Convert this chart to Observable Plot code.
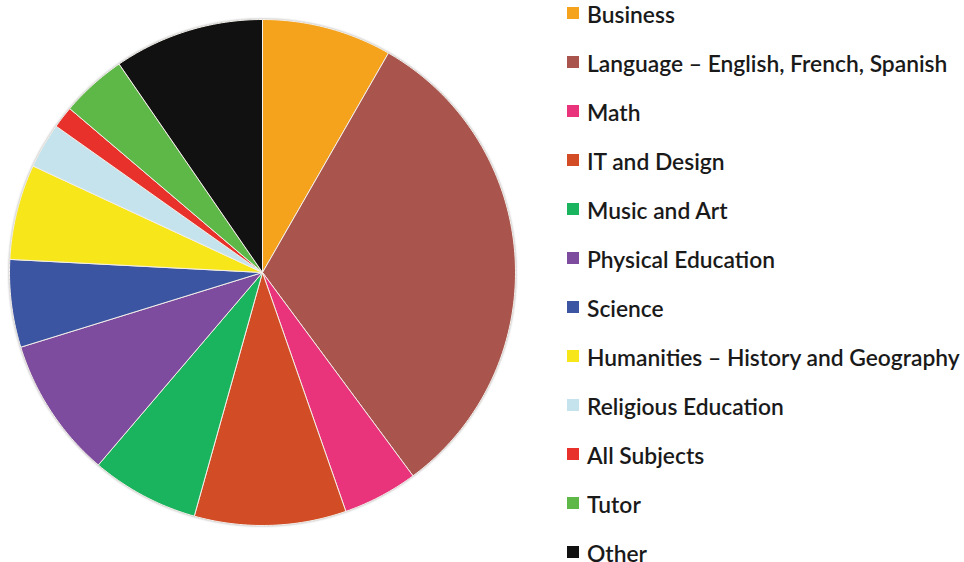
<!DOCTYPE html>
<html>
<head>
<meta charset="utf-8">
<script src="https://cdn.jsdelivr.net/npm/d3@7"></script>
<script src="https://cdn.jsdelivr.net/npm/@observablehq/plot@0.6"></script>
<style>
  html, body { margin: 0; padding: 0; background: #fff; overflow: hidden; }
  #wrap { position: relative; width: 964px; height: 562px; overflow: hidden; }
  #wrap svg { position: absolute; left: 0; top: 0; filter: drop-shadow(0 0 1.2px rgba(0,0,0,0.35)); }
  #legend { position: absolute; left: 567px; top: -10.5px; font-family: Lato, "Open Sans", sans-serif; font-size: 22.8px; color: #1a1a1a; font-weight: 600; }
  .item { height: 49px; display: flex; align-items: center; white-space: nowrap; }
  .sw { width: 12px; height: 12px; margin-right: 8px; flex: none; margin-top: -2px; }
</style>
</head>
<body>
<div id="wrap"><div id="legend"></div></div>
<script>
const names = [
  "Business",
  "Language – English, French, Spanish",
  "Math",
  "IT and Design",
  "Music and Art",
  "Physical Education",
  "Science",
  "Humanities – History and Geography",
  "Religious Education",
  "All Subjects",
  "Tutor",
  "Other"
];
const values = [8.3, 31.6, 4.8, 9.7, 6.9, 9.0, 5.6, 6.1, 2.9, 1.4, 4.2, 9.6];
const colors = ["#f5a31c", "#a9544d", "#e9337b", "#d24c25", "#1ab35e", "#7e4c9e", "#3b55a3", "#f7e71a", "#c4e3ed", "#e8312a", "#5db848", "#111111"];

const arcs = d3.pie().sort(null).value(d => d.value)(names.map((name, i) => ({name, value: values[i]})));
const pts = [];
for (const a of arcs) {
  const name = a.data.name;
  pts.push({name, x: 0, y: 0});
  const n = Math.max(8, Math.ceil((a.endAngle - a.startAngle) * 60));
  for (let k = 0; k <= n; k++) {
    const t = a.startAngle + (a.endAngle - a.startAngle) * k / n;
    pts.push({name, x: Math.sin(t), y: Math.cos(t)});
  }
  pts.push({name, x: 0, y: 0});
}

const cx = 262, cy = 272, r = 253;
const chart = Plot.plot({
  width: 540,
  height: 562,
  margin: 0,
  x: {domain: [-1, 1], range: [cx - r, cx + r], axis: null},
  y: {domain: [-1, 1], range: [cy + r, cy - r], axis: null},
  color: {domain: names, range: colors},
  marks: [
    Plot.line(pts, {x: "x", y: "y", z: "name", fill: "name", stroke: "#f4efe9", strokeWidth: 1, curve: "linear"})
  ]
});
document.getElementById("wrap").prepend(chart);

const legend = d3.select("#legend");
names.forEach((n, i) => {
  const it = legend.append("div").attr("class", "item");
  it.append("div").attr("class", "sw").style("background", colors[i]);
  it.append("span").text(n);
});
</script>
</body>
</html>
